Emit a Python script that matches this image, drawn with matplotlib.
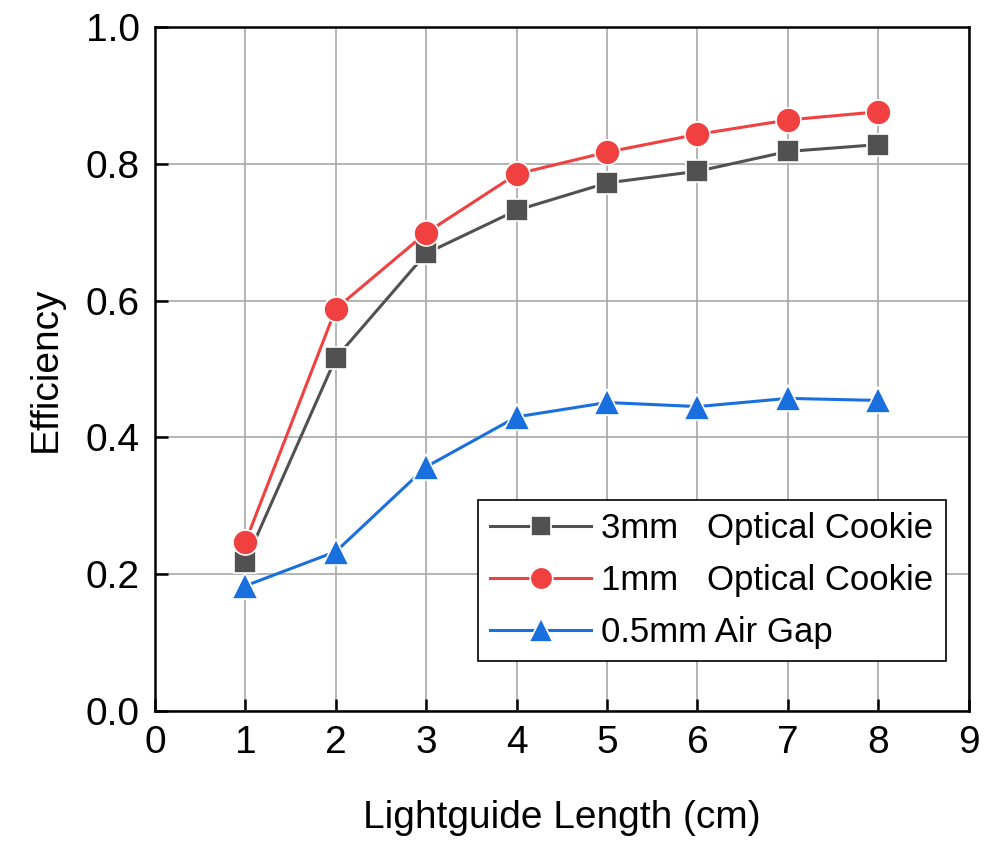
import numpy as np
import matplotlib.pyplot as plt

plt.rcParams['font.family'] = ['Liberation Sans Narrow', 'Liberation Sans', 'DejaVu Sans']

# Lightguide length (cm)
length = [1, 2, 3, 4, 5, 6, 7, 8]

# Efficiency for each coupling
eff_3mm = [0.218, 0.516, 0.669, 0.732, 0.772, 0.789, 0.818, 0.828]
eff_1mm = [0.247, 0.588, 0.699, 0.785, 0.817, 0.843, 0.864, 0.876]
eff_air = [0.183, 0.233, 0.357, 0.430, 0.451, 0.445, 0.457, 0.454]

labels = ["3mm   Optical Cookie", "1mm   Optical Cookie", "0.5mm Air Gap"]

fig = plt.figure(figsize=(9.87, 8.42), dpi=100)
ax = fig.add_axes([0.157, 0.1556, 0.8245, 0.8124])

ax.plot(length, eff_3mm, color="#515151", lw=2.2, marker="s", ms=16,
        mec="white", mew=1.2, label=labels[0], zorder=3)
ax.plot(length, eff_1mm, color="#F14040", lw=2.2, marker="o", ms=18,
        mec="white", mew=1.2, label=labels[1], zorder=3)
ax.plot(length, eff_air, color="#1A6FDF", lw=2.2, marker="^", ms=19,
        mec="white", mew=1.2, label=labels[2], zorder=3)

ax.set_xlim(0, 9)
ax.set_ylim(0, 1.0)
ax.set_xticks(range(0, 10))
ax.set_yticks([0.0, 0.2, 0.4, 0.6, 0.8, 1.0])
ax.set_yticklabels(["0.0", "0.2", "0.4", "0.6", "0.8", "1.0"])

ax.grid(True, color="#a8a8a8", lw=1.2)
ax.set_axisbelow(True)

for s in ax.spines.values():
    s.set_linewidth(1.8)
ax.tick_params(direction="in", length=9, width=1.8, labelsize=28)
ax.tick_params(axis="x", pad=10)
ax.tick_params(axis="y", pad=11)

ax.set_xlabel("Lightguide Length (cm)", fontsize=28, labelpad=28)
ax.set_ylabel("Efficiency", fontsize=28, labelpad=16)

leg = ax.legend(loc="upper left", bbox_to_anchor=(0.397, 0.3085), borderaxespad=0,
                fontsize=25, fancybox=False, edgecolor="black", framealpha=1,
                handlelength=2.9, handletextpad=0.3, labelspacing=0.55,
                borderpad=0.35, markerscale=0.9)
leg.get_frame().set_linewidth(1.2)

fig.savefig("out.png", dpi=100)
